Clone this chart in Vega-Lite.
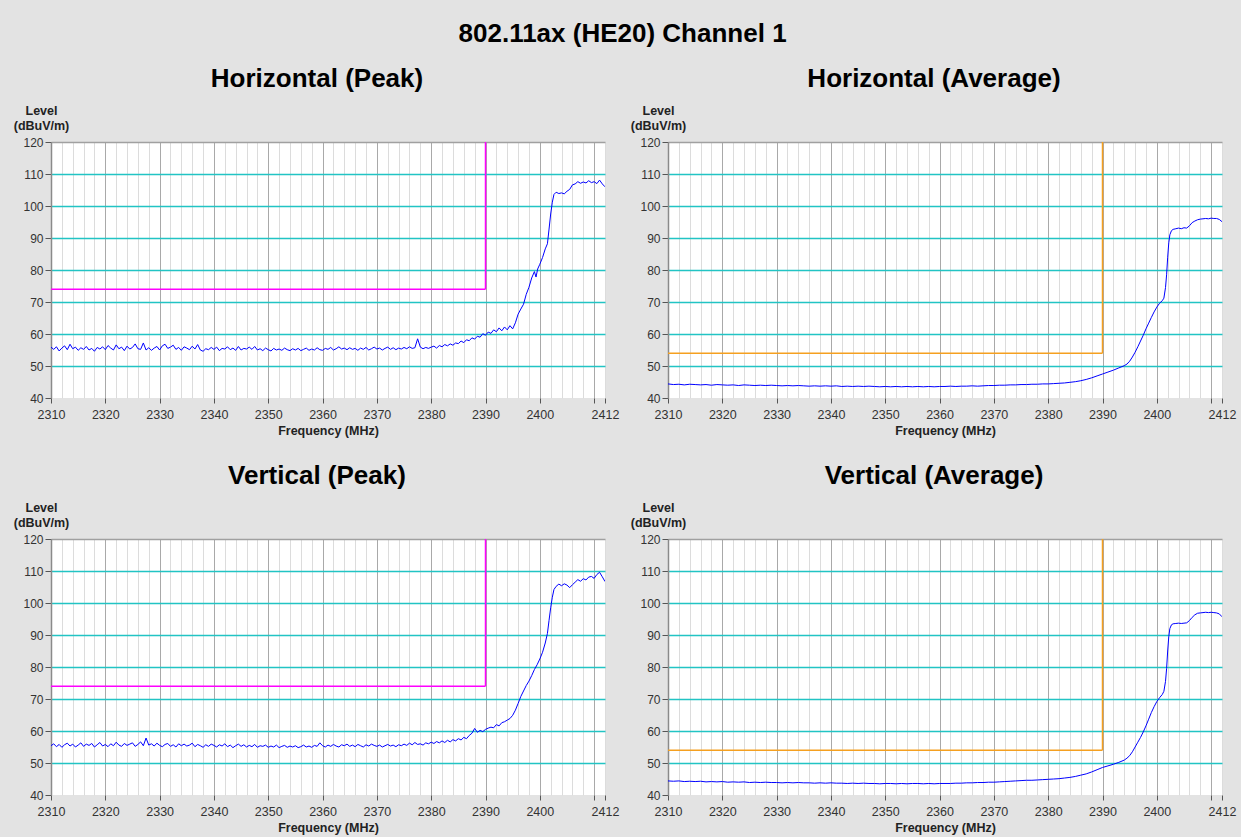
{
"$schema": "https://vega.github.io/schema/vega-lite/v6.json",
"autosize": {"type": "pad"},
"padding": {"left": 13, "top": 21, "right": 5, "bottom": 3},
"background": "#e3e3e3",
"title": {"text": "802.11ax (HE20) Channel 1", "fontSize": 26, "fontWeight": "bold", "anchor": "middle", "dx": -2, "offset": 19, "color": "#000000"},
"columns": 2,
"spacing": {"column": 63, "row": 141},
"bounds": "flush",
"config": {
  "font": "Liberation Sans",
  "view": {"stroke": null, "fill": "#ffffff"},
  "axisX": {"format": "d", "labelFontSize": 12.5, "labelColor": "#333333", "tickColor": "#555555", "tickSize": 5, "domain": false, "labelFlush": false, "labelOverlap": false, "labelPadding": 5, "titleFontSize": 12.5, "titleFontWeight": "bold", "titleColor": "#222222", "titlePadding": 4, "gridWidth": 1},
  "axisY": {"labelFontSize": 12, "labelColor": "#333333", "tickColor": "#555555", "tickSize": 6, "domainColor": "#8a8a8a", "domainWidth": 1.5, "labelPadding": 2, "labelOverlap": false, "titleFontSize": 12.5, "titleFontWeight": "bold", "titleColor": "#222222", "titleAngle": 0, "titleAlign": "center", "titleBaseline": "alphabetic", "titleX": -10, "titleY": -28, "titleLineHeight": 15, "gridWidth": 1.3}
},
"datasets": {
"limP": [{"f": 2310, "f2": 2390, "v": 74, "v2": 74}, {"f": 2390, "f2": 2390, "v": 74, "v2": 120}],
"limA": [{"f": 2310, "f2": 2390, "v": 54, "v2": 54}, {"f": 2390, "f2": 2390, "v": 54, "v2": 120}],
"hp": [
{"f":2310,"v":55.9},{"f":2310.5,"v":55.2},{"f":2311,"v":56.0},{"f":2311.5,"v":54.7},{"f":2312,"v":55.6},{"f":2312.5,"v":56.3},{"f":2313,"v":55.1},{"f":2313.5,"v":56.8},{"f":2314,"v":55.4},{"f":2314.5,"v":55.9},
{"f":2315,"v":54.9},{"f":2315.5,"v":55.7},{"f":2316,"v":55.2},{"f":2316.5,"v":56.1},{"f":2317,"v":55.0},{"f":2317.5,"v":55.5},{"f":2318,"v":54.6},{"f":2318.5,"v":55.8},{"f":2319,"v":55.3},{"f":2319.5,"v":56.0},
{"f":2320,"v":55.1},{"f":2320.5,"v":56.4},{"f":2321,"v":55.6},{"f":2321.5,"v":55.0},{"f":2322,"v":56.6},{"f":2322.5,"v":55.4},{"f":2323,"v":55.9},{"f":2323.5,"v":54.8},{"f":2324,"v":56.2},{"f":2324.5,"v":55.3},
{"f":2325,"v":55.8},{"f":2325.5,"v":56.9},{"f":2326,"v":55.4},{"f":2326.5,"v":55.2},{"f":2327,"v":57.2},{"f":2327.5,"v":55.0},{"f":2328,"v":55.7},{"f":2328.5,"v":54.9},{"f":2329,"v":55.6},{"f":2329.5,"v":56.1},
{"f":2330,"v":55.0},{"f":2330.5,"v":56.3},{"f":2331,"v":56.8},{"f":2331.5,"v":55.5},{"f":2332,"v":55.9},{"f":2332.5,"v":56.5},{"f":2333,"v":55.2},{"f":2333.5,"v":55.8},{"f":2334,"v":54.9},{"f":2334.5,"v":56.0},
{"f":2335,"v":55.6},{"f":2335.5,"v":55.1},{"f":2336,"v":56.2},{"f":2336.5,"v":55.3},{"f":2337,"v":56.7},{"f":2337.5,"v":55.0},{"f":2338,"v":54.6},{"f":2338.5,"v":55.4},{"f":2339,"v":55.1},{"f":2339.5,"v":55.8},
{"f":2340,"v":55.2},{"f":2340.5,"v":55.9},{"f":2341,"v":54.8},{"f":2341.5,"v":55.5},{"f":2342,"v":55.3},{"f":2342.5,"v":56.0},{"f":2343,"v":55.1},{"f":2343.5,"v":55.6},{"f":2344,"v":54.9},{"f":2344.5,"v":56.1},
{"f":2345,"v":55.0},{"f":2345.5,"v":55.5},{"f":2346,"v":55.3},{"f":2346.5,"v":55.9},{"f":2347,"v":55.2},{"f":2347.5,"v":56.1},{"f":2348,"v":55.0},{"f":2348.5,"v":55.4},{"f":2349,"v":54.8},{"f":2349.5,"v":55.6},
{"f":2350,"v":55.1},{"f":2350.5,"v":54.7},{"f":2351,"v":55.5},{"f":2351.5,"v":55.0},{"f":2352,"v":55.3},{"f":2352.5,"v":54.9},{"f":2353,"v":55.6},{"f":2353.5,"v":55.1},{"f":2354,"v":54.8},{"f":2354.5,"v":55.4},
{"f":2355,"v":55.0},{"f":2355.5,"v":55.5},{"f":2356,"v":54.8},{"f":2356.5,"v":55.2},{"f":2357,"v":55.6},{"f":2357.5,"v":54.9},{"f":2358,"v":55.3},{"f":2358.5,"v":55.0},{"f":2359,"v":55.7},{"f":2359.5,"v":55.1},
{"f":2360,"v":54.9},{"f":2360.5,"v":55.5},{"f":2361,"v":55.2},{"f":2361.5,"v":55.8},{"f":2362,"v":55.0},{"f":2362.5,"v":55.4},{"f":2363,"v":56.0},{"f":2363.5,"v":55.3},{"f":2364,"v":55.6},{"f":2364.5,"v":55.1},
{"f":2365,"v":55.7},{"f":2365.5,"v":55.2},{"f":2366,"v":55.5},{"f":2366.5,"v":54.9},{"f":2367,"v":55.6},{"f":2367.5,"v":55.2},{"f":2368,"v":55.8},{"f":2368.5,"v":55.0},{"f":2369,"v":55.4},{"f":2369.5,"v":55.9},
{"f":2370,"v":55.3},{"f":2370.5,"v":55.6},{"f":2371,"v":55.0},{"f":2371.5,"v":55.5},{"f":2372,"v":55.9},{"f":2372.5,"v":55.2},{"f":2373,"v":55.7},{"f":2373.5,"v":55.1},{"f":2374,"v":55.6},{"f":2374.5,"v":55.3},
{"f":2375,"v":55.8},{"f":2375.5,"v":55.4},{"f":2376,"v":56.0},{"f":2376.5,"v":55.5},{"f":2377,"v":55.7},{"f":2377.5,"v":58.5},{"f":2378,"v":55.9},{"f":2378.5,"v":55.4},{"f":2379,"v":55.8},{"f":2379.5,"v":55.5},
{"f":2380,"v":55.9},{"f":2380.5,"v":56.2},{"f":2381,"v":55.6},{"f":2381.5,"v":56.4},{"f":2382,"v":56.0},{"f":2382.5,"v":56.7},{"f":2383,"v":56.3},{"f":2383.5,"v":56.9},{"f":2384,"v":56.5},{"f":2384.5,"v":57.2},
{"f":2385,"v":57.0},{"f":2385.5,"v":57.8},{"f":2386,"v":57.3},{"f":2386.5,"v":58.2},{"f":2387,"v":57.9},{"f":2387.5,"v":58.8},{"f":2388,"v":58.4},{"f":2388.5,"v":59.3},{"f":2389,"v":59.0},{"f":2389.5,"v":60.1},
{"f":2390,"v":59.6},{"f":2390.5,"v":60.6},{"f":2391,"v":60.2},{"f":2391.5,"v":61.3},{"f":2392,"v":60.7},{"f":2392.5,"v":61.9},{"f":2393,"v":61.0},{"f":2393.5,"v":62.2},{"f":2394,"v":61.3},{"f":2394.5,"v":62.6},
{"f":2395,"v":61.6},{"f":2395.5,"v":63.5},{"f":2396,"v":66.2},{"f":2396.5,"v":67.8},{"f":2397,"v":69.3},{"f":2397.5,"v":72.4},{"f":2398,"v":74.6},{"f":2398.5,"v":77.5},{"f":2399,"v":79.5},{"f":2399.3,"v":77.8},
{"f":2399.6,"v":80.3},{"f":2400,"v":81.8},{"f":2400.5,"v":83.9},{"f":2401,"v":86.6},{"f":2401.4,"v":88.2},{"f":2401.7,"v":92.8},{"f":2402,"v":97.5},{"f":2402.3,"v":101.2},{"f":2402.6,"v":103.6},{"f":2403,"v":104.3},
{"f":2403.5,"v":103.9},{"f":2404,"v":104.1},{"f":2404.5,"v":103.8},{"f":2405,"v":104.6},{"f":2405.5,"v":105.2},{"f":2406,"v":106.6},{"f":2406.5,"v":106.9},{"f":2407,"v":107.6},{"f":2407.5,"v":107.1},{"f":2408,"v":107.5},
{"f":2408.5,"v":107.2},{"f":2409,"v":107.9},{"f":2409.5,"v":107.3},{"f":2410,"v":107.6},{"f":2410.5,"v":107.0},{"f":2411,"v":108.1},{"f":2411.5,"v":106.9},{"f":2412,"v":106.0}
],
"vp": [
{"f":2310,"v":55.4},{"f":2310.5,"v":56.0},{"f":2311,"v":55.1},{"f":2311.5,"v":55.8},{"f":2312,"v":54.9},{"f":2312.5,"v":55.7},{"f":2313,"v":56.2},{"f":2313.5,"v":55.3},{"f":2314,"v":55.9},{"f":2314.5,"v":55.0},
{"f":2315,"v":55.6},{"f":2315.5,"v":56.3},{"f":2316,"v":55.2},{"f":2316.5,"v":55.9},{"f":2317,"v":55.5},{"f":2317.5,"v":56.1},{"f":2318,"v":55.0},{"f":2318.5,"v":55.7},{"f":2319,"v":56.4},{"f":2319.5,"v":55.3},
{"f":2320,"v":55.8},{"f":2320.5,"v":55.1},{"f":2321,"v":56.0},{"f":2321.5,"v":55.4},{"f":2322,"v":56.5},{"f":2322.5,"v":55.6},{"f":2323,"v":55.2},{"f":2323.5,"v":56.1},{"f":2324,"v":55.5},{"f":2324.5,"v":55.9},
{"f":2325,"v":56.3},{"f":2325.5,"v":55.2},{"f":2326,"v":55.8},{"f":2326.5,"v":56.6},{"f":2327,"v":55.4},{"f":2327.5,"v":57.8},{"f":2328,"v":55.6},{"f":2328.5,"v":56.0},{"f":2329,"v":55.3},{"f":2329.5,"v":56.2},
{"f":2330,"v":55.5},{"f":2330.5,"v":55.1},{"f":2331,"v":55.8},{"f":2331.5,"v":56.1},{"f":2332,"v":55.2},{"f":2332.5,"v":55.7},{"f":2333,"v":55.0},{"f":2333.5,"v":56.0},{"f":2334,"v":55.4},{"f":2334.5,"v":55.9},
{"f":2335,"v":55.3},{"f":2335.5,"v":55.6},{"f":2336,"v":56.2},{"f":2336.5,"v":55.1},{"f":2337,"v":55.8},{"f":2337.5,"v":55.4},{"f":2338,"v":54.9},{"f":2338.5,"v":55.7},{"f":2339,"v":55.2},{"f":2339.5,"v":55.9},
{"f":2340,"v":55.5},{"f":2340.5,"v":55.0},{"f":2341,"v":55.7},{"f":2341.5,"v":55.3},{"f":2342,"v":56.0},{"f":2342.5,"v":55.1},{"f":2343,"v":55.6},{"f":2343.5,"v":54.8},{"f":2344,"v":55.4},{"f":2344.5,"v":55.9},
{"f":2345,"v":55.2},{"f":2345.5,"v":55.7},{"f":2346,"v":55.0},{"f":2346.5,"v":55.5},{"f":2347,"v":55.1},{"f":2347.5,"v":55.8},{"f":2348,"v":54.9},{"f":2348.5,"v":55.4},{"f":2349,"v":55.2},{"f":2349.5,"v":55.6},
{"f":2350,"v":54.9},{"f":2350.5,"v":55.3},{"f":2351,"v":55.0},{"f":2351.5,"v":55.6},{"f":2352,"v":54.8},{"f":2352.5,"v":55.2},{"f":2353,"v":55.5},{"f":2353.5,"v":54.9},{"f":2354,"v":55.3},{"f":2354.5,"v":55.0},
{"f":2355,"v":55.4},{"f":2355.5,"v":54.8},{"f":2356,"v":55.1},{"f":2356.5,"v":55.6},{"f":2357,"v":55.0},{"f":2357.5,"v":55.3},{"f":2358,"v":54.9},{"f":2358.5,"v":55.5},{"f":2359,"v":55.2},{"f":2359.5,"v":56.3},
{"f":2360,"v":55.4},{"f":2360.5,"v":55.0},{"f":2361,"v":55.6},{"f":2361.5,"v":55.2},{"f":2362,"v":55.8},{"f":2362.5,"v":55.3},{"f":2363,"v":55.0},{"f":2363.5,"v":55.7},{"f":2364,"v":55.4},{"f":2364.5,"v":55.9},
{"f":2365,"v":55.2},{"f":2365.5,"v":55.6},{"f":2366,"v":55.1},{"f":2366.5,"v":55.8},{"f":2367,"v":55.4},{"f":2367.5,"v":55.0},{"f":2368,"v":55.7},{"f":2368.5,"v":55.3},{"f":2369,"v":55.9},{"f":2369.5,"v":55.5},
{"f":2370,"v":55.2},{"f":2370.5,"v":55.6},{"f":2371,"v":55.0},{"f":2371.5,"v":55.4},{"f":2372,"v":55.8},{"f":2372.5,"v":55.3},{"f":2373,"v":55.6},{"f":2373.5,"v":55.1},{"f":2374,"v":55.7},{"f":2374.5,"v":55.4},
{"f":2375,"v":55.9},{"f":2375.5,"v":55.5},{"f":2376,"v":56.2},{"f":2376.5,"v":55.7},{"f":2377,"v":56.4},{"f":2377.5,"v":55.8},{"f":2378,"v":56.0},{"f":2378.5,"v":55.6},{"f":2379,"v":56.3},{"f":2379.5,"v":56.0},
{"f":2380,"v":56.5},{"f":2380.5,"v":56.1},{"f":2381,"v":56.7},{"f":2381.5,"v":56.3},{"f":2382,"v":56.9},{"f":2382.5,"v":56.4},{"f":2383,"v":57.1},{"f":2383.5,"v":56.6},{"f":2384,"v":57.3},{"f":2384.5,"v":56.9},
{"f":2385,"v":57.6},{"f":2385.5,"v":57.2},{"f":2386,"v":58.0},{"f":2386.5,"v":57.6},{"f":2387,"v":58.6},{"f":2387.5,"v":59.3},{"f":2388,"v":60.8},{"f":2388.5,"v":59.6},{"f":2389,"v":60.2},{"f":2389.5,"v":59.8},
{"f":2390,"v":60.5},{"f":2390.5,"v":60.9},{"f":2391,"v":61.2},{"f":2391.5,"v":61.0},{"f":2392,"v":62.0},{"f":2392.5,"v":61.6},{"f":2393,"v":62.6},{"f":2393.5,"v":62.9},{"f":2394,"v":63.4},{"f":2394.5,"v":63.9},
{"f":2395,"v":64.9},{"f":2395.5,"v":66.5},{"f":2396,"v":68.6},{"f":2396.5,"v":70.8},{"f":2397,"v":72.5},{"f":2397.5,"v":74.2},{"f":2398,"v":75.6},{"f":2398.5,"v":77.3},{"f":2399,"v":79.2},{"f":2399.5,"v":80.7},
{"f":2400,"v":82.5},{"f":2400.5,"v":84.6},{"f":2401,"v":87.5},{"f":2401.4,"v":90.5},{"f":2401.7,"v":94.6},{"f":2402,"v":98.5},{"f":2402.3,"v":101.8},{"f":2402.6,"v":104.2},{"f":2403,"v":105.2},{"f":2403.5,"v":105.9},
{"f":2404,"v":105.4},{"f":2404.5,"v":106.0},{"f":2405,"v":105.6},{"f":2405.5,"v":104.8},{"f":2406,"v":105.7},{"f":2406.5,"v":106.5},{"f":2407,"v":107.3},{"f":2407.5,"v":106.8},{"f":2408,"v":107.6},{"f":2408.5,"v":107.2},
{"f":2409,"v":108.1},{"f":2409.5,"v":108.3},{"f":2410,"v":107.7},{"f":2410.5,"v":108.9},{"f":2411,"v":109.6},{"f":2411.5,"v":108.2},{"f":2412,"v":106.7}
],
"ha": [
{"f":2310,"v":44.4},{"f":2311,"v":44.2},{"f":2312,"v":44.3},{"f":2313,"v":44.1},{"f":2314,"v":44.3},{"f":2315,"v":44.2},{"f":2316,"v":44.1},{"f":2317,"v":44.2},{"f":2318,"v":44.0},{"f":2319,"v":44.2},
{"f":2320,"v":44.1},{"f":2321,"v":44.0},{"f":2322,"v":44.1},{"f":2323,"v":43.9},{"f":2324,"v":44.1},{"f":2325,"v":44.0},{"f":2326,"v":43.9},{"f":2327,"v":44.0},{"f":2328,"v":43.9},{"f":2329,"v":44.0},
{"f":2330,"v":43.9},{"f":2331,"v":43.8},{"f":2332,"v":43.9},{"f":2333,"v":43.8},{"f":2334,"v":43.9},{"f":2335,"v":43.8},{"f":2336,"v":43.7},{"f":2337,"v":43.8},{"f":2338,"v":43.7},{"f":2339,"v":43.8},
{"f":2340,"v":43.7},{"f":2341,"v":43.8},{"f":2342,"v":43.6},{"f":2343,"v":43.7},{"f":2344,"v":43.6},{"f":2345,"v":43.7},{"f":2346,"v":43.6},{"f":2347,"v":43.7},{"f":2348,"v":43.6},{"f":2349,"v":43.5},
{"f":2350,"v":43.6},{"f":2351,"v":43.5},{"f":2352,"v":43.6},{"f":2353,"v":43.5},{"f":2354,"v":43.6},{"f":2355,"v":43.5},{"f":2356,"v":43.6},{"f":2357,"v":43.5},{"f":2358,"v":43.6},{"f":2359,"v":43.5},
{"f":2360,"v":43.6},{"f":2361,"v":43.6},{"f":2362,"v":43.7},{"f":2363,"v":43.6},{"f":2364,"v":43.7},{"f":2365,"v":43.7},{"f":2366,"v":43.8},{"f":2367,"v":43.7},{"f":2368,"v":43.8},{"f":2369,"v":43.9},
{"f":2370,"v":43.9},{"f":2371,"v":44.0},{"f":2372,"v":44.0},{"f":2373,"v":44.1},{"f":2374,"v":44.1},{"f":2375,"v":44.2},{"f":2376,"v":44.2},{"f":2377,"v":44.3},{"f":2378,"v":44.3},{"f":2379,"v":44.4},
{"f":2380,"v":44.4},{"f":2381,"v":44.5},{"f":2382,"v":44.6},{"f":2383,"v":44.7},{"f":2384,"v":44.9},{"f":2385,"v":45.1},{"f":2386,"v":45.4},{"f":2387,"v":45.8},{"f":2388,"v":46.3},{"f":2389,"v":46.9},
{"f":2390,"v":47.5},{"f":2391,"v":48.1},{"f":2392,"v":48.7},{"f":2393,"v":49.4},{"f":2394,"v":50.1},{"f":2394.5,"v":50.6},{"f":2395,"v":51.5},{"f":2395.5,"v":52.8},{"f":2396,"v":54.3},{"f":2396.5,"v":56.0},
{"f":2397,"v":57.8},{"f":2397.5,"v":59.6},{"f":2398,"v":61.6},{"f":2398.5,"v":63.4},{"f":2399,"v":65.2},{"f":2399.5,"v":66.9},{"f":2400,"v":68.4},{"f":2400.5,"v":69.6},{"f":2401,"v":70.4},{"f":2401.3,"v":71.2},
{"f":2401.6,"v":74.5},{"f":2401.8,"v":78.5},{"f":2402,"v":84.0},{"f":2402.2,"v":88.5},{"f":2402.4,"v":91.0},{"f":2402.7,"v":92.3},{"f":2403,"v":92.7},{"f":2403.5,"v":92.9},{"f":2404,"v":93.1},{"f":2404.5,"v":92.9},
{"f":2405,"v":93.2},{"f":2405.5,"v":93.1},{"f":2406,"v":93.8},{"f":2406.5,"v":94.8},{"f":2407,"v":95.3},{"f":2407.5,"v":95.7},{"f":2408,"v":95.9},{"f":2408.5,"v":96.0},{"f":2409,"v":96.1},{"f":2409.5,"v":96.0},
{"f":2410,"v":96.2},{"f":2410.5,"v":96.1},{"f":2411,"v":96.1},{"f":2411.5,"v":95.8},{"f":2412,"v":95.1}
],
"va": [
{"f":2310,"v":44.4},{"f":2311,"v":44.3},{"f":2312,"v":44.4},{"f":2313,"v":44.2},{"f":2314,"v":44.3},{"f":2315,"v":44.2},{"f":2316,"v":44.3},{"f":2317,"v":44.1},{"f":2318,"v":44.2},{"f":2319,"v":44.1},
{"f":2320,"v":44.2},{"f":2321,"v":44.0},{"f":2322,"v":44.1},{"f":2323,"v":44.0},{"f":2324,"v":44.1},{"f":2325,"v":43.9},{"f":2326,"v":44.0},{"f":2327,"v":43.9},{"f":2328,"v":44.0},{"f":2329,"v":43.9},
{"f":2330,"v":43.9},{"f":2331,"v":43.8},{"f":2332,"v":43.9},{"f":2333,"v":43.8},{"f":2334,"v":43.9},{"f":2335,"v":43.8},{"f":2336,"v":43.8},{"f":2337,"v":43.7},{"f":2338,"v":43.8},{"f":2339,"v":43.7},
{"f":2340,"v":43.8},{"f":2341,"v":43.7},{"f":2342,"v":43.7},{"f":2343,"v":43.6},{"f":2344,"v":43.7},{"f":2345,"v":43.6},{"f":2346,"v":43.7},{"f":2347,"v":43.6},{"f":2348,"v":43.6},{"f":2349,"v":43.5},
{"f":2350,"v":43.6},{"f":2351,"v":43.6},{"f":2352,"v":43.5},{"f":2353,"v":43.6},{"f":2354,"v":43.5},{"f":2355,"v":43.6},{"f":2356,"v":43.6},{"f":2357,"v":43.5},{"f":2358,"v":43.6},{"f":2359,"v":43.5},
{"f":2360,"v":43.6},{"f":2361,"v":43.6},{"f":2362,"v":43.6},{"f":2363,"v":43.7},{"f":2364,"v":43.7},{"f":2365,"v":43.8},{"f":2366,"v":43.8},{"f":2367,"v":43.9},{"f":2368,"v":43.9},{"f":2369,"v":44.0},
{"f":2370,"v":44.0},{"f":2371,"v":44.1},{"f":2372,"v":44.2},{"f":2373,"v":44.3},{"f":2374,"v":44.4},{"f":2375,"v":44.5},{"f":2376,"v":44.6},{"f":2377,"v":44.6},{"f":2378,"v":44.7},{"f":2379,"v":44.8},
{"f":2380,"v":44.9},{"f":2381,"v":45.0},{"f":2382,"v":45.1},{"f":2383,"v":45.3},{"f":2384,"v":45.5},{"f":2385,"v":45.8},{"f":2386,"v":46.2},{"f":2387,"v":46.6},{"f":2388,"v":47.2},{"f":2389,"v":47.9},
{"f":2390,"v":48.6},{"f":2391,"v":49.1},{"f":2392,"v":49.6},{"f":2393,"v":50.2},{"f":2394,"v":50.9},{"f":2394.5,"v":51.5},{"f":2395,"v":52.3},{"f":2395.5,"v":53.5},{"f":2396,"v":55.0},{"f":2396.5,"v":56.5},
{"f":2397,"v":58.0},{"f":2397.5,"v":59.7},{"f":2398,"v":61.6},{"f":2398.5,"v":63.7},{"f":2399,"v":65.8},{"f":2399.5,"v":67.6},{"f":2400,"v":69.2},{"f":2400.5,"v":70.4},{"f":2401,"v":71.4},{"f":2401.3,"v":72.4},
{"f":2401.6,"v":75.5},{"f":2401.8,"v":79.5},{"f":2402,"v":85.0},{"f":2402.2,"v":89.5},{"f":2402.4,"v":92.0},{"f":2402.7,"v":93.2},{"f":2403,"v":93.5},{"f":2403.5,"v":93.6},{"f":2404,"v":93.7},{"f":2404.5,"v":93.6},
{"f":2405,"v":93.7},{"f":2405.5,"v":93.8},{"f":2406,"v":94.5},{"f":2406.5,"v":95.5},{"f":2407,"v":96.3},{"f":2407.5,"v":96.8},{"f":2408,"v":96.9},{"f":2408.5,"v":97.0},{"f":2409,"v":97.1},{"f":2409.5,"v":97.0},
{"f":2410,"v":97.1},{"f":2410.5,"v":97.0},{"f":2411,"v":96.9},{"f":2411.5,"v":96.6},{"f":2412,"v":95.7}
]
},
"concat": [
{
"title": {"text": "Horizontal (Peak)", "fontSize": 26, "fontWeight": "bold", "anchor": "middle", "dx": -11, "offset": 12, "color": "#000000"},
"width": 554, "height": 256,
"encoding": {
  "x": {"field": "f", "type": "quantitative", "scale": {"domain": [2310, 2412], "nice": false, "zero": false},
   "axis": {"title": "Frequency (MHz)", "values": [2310,2312,2314,2316,2318,2320,2322,2324,2326,2328,2330,2332,2334,2336,2338,2340,2342,2344,2346,2348,2350,2352,2354,2356,2358,2360,2362,2364,2366,2368,2370,2372,2374,2376,2378,2380,2382,2384,2386,2388,2390,2392,2394,2396,2398,2400,2402,2404,2406,2408,2410,2412],
    "labelExpr": "((datum.value % 10 === 0 && datum.value !== 2410) || datum.value === 2412) ? datum.label : ''",
    "gridColor": {"condition": {"test": "datum.value % 10 === 0", "value": "#a9a9a9"}, "value": "#dcdcdc"},
    "tickOpacity": {"condition": {"test": "datum.value % 10 === 0 || datum.value === 2412", "value": 1}, "value": 0}}},
  "y": {"field": "v", "type": "quantitative", "scale": {"domain": [40, 120], "nice": false, "zero": false},
   "axis": {"title": ["Level", "(dBuV/m)"], "values": [40,50,60,70,80,90,100,110,120],
    "gridColor": {"condition": {"test": "datum.value === 120", "value": "#a0a0a0"}, "value": "#22c4c4"},
    "gridOpacity": {"condition": {"test": "datum.value === 40", "value": 0}, "value": 1}}}
},
"layer": [
{"data": {"name": "hp"}, "mark": {"type": "line", "color": "#0000ff", "strokeWidth": 1, "clip": true}},
{"data": {"name": "limP"}, "mark": {"type": "rule", "color": "#ff00ff", "strokeWidth": 1.5}, "encoding": {"x2": {"field": "f2"}, "y2": {"field": "v2"}}}
]
},
{
"title": {"text": "Horizontal (Average)", "fontSize": 26, "fontWeight": "bold", "anchor": "middle", "dx": -11, "offset": 12, "color": "#000000"},
"width": 554, "height": 256,
"encoding": {
  "x": {"field": "f", "type": "quantitative", "scale": {"domain": [2310, 2412], "nice": false, "zero": false},
   "axis": {"title": "Frequency (MHz)", "values": [2310,2312,2314,2316,2318,2320,2322,2324,2326,2328,2330,2332,2334,2336,2338,2340,2342,2344,2346,2348,2350,2352,2354,2356,2358,2360,2362,2364,2366,2368,2370,2372,2374,2376,2378,2380,2382,2384,2386,2388,2390,2392,2394,2396,2398,2400,2402,2404,2406,2408,2410,2412],
    "labelExpr": "((datum.value % 10 === 0 && datum.value !== 2410) || datum.value === 2412) ? datum.label : ''",
    "gridColor": {"condition": {"test": "datum.value % 10 === 0", "value": "#a9a9a9"}, "value": "#dcdcdc"},
    "tickOpacity": {"condition": {"test": "datum.value % 10 === 0 || datum.value === 2412", "value": 1}, "value": 0}}},
  "y": {"field": "v", "type": "quantitative", "scale": {"domain": [40, 120], "nice": false, "zero": false},
   "axis": {"title": ["Level", "(dBuV/m)"], "values": [40,50,60,70,80,90,100,110,120],
    "gridColor": {"condition": {"test": "datum.value === 120", "value": "#a0a0a0"}, "value": "#22c4c4"},
    "gridOpacity": {"condition": {"test": "datum.value === 40", "value": 0}, "value": 1}}}
},
"layer": [
{"data": {"name": "ha"}, "mark": {"type": "line", "color": "#0000ff", "strokeWidth": 1, "clip": true}},
{"data": {"name": "limA"}, "mark": {"type": "rule", "color": "#f5a020", "strokeWidth": 1.5}, "encoding": {"x2": {"field": "f2"}, "y2": {"field": "v2"}}}
]
},
{
"title": {"text": "Vertical (Peak)", "fontSize": 26, "fontWeight": "bold", "anchor": "middle", "dx": -11, "offset": 12, "color": "#000000"},
"width": 554, "height": 256,
"encoding": {
  "x": {"field": "f", "type": "quantitative", "scale": {"domain": [2310, 2412], "nice": false, "zero": false},
   "axis": {"title": "Frequency (MHz)", "values": [2310,2312,2314,2316,2318,2320,2322,2324,2326,2328,2330,2332,2334,2336,2338,2340,2342,2344,2346,2348,2350,2352,2354,2356,2358,2360,2362,2364,2366,2368,2370,2372,2374,2376,2378,2380,2382,2384,2386,2388,2390,2392,2394,2396,2398,2400,2402,2404,2406,2408,2410,2412],
    "labelExpr": "((datum.value % 10 === 0 && datum.value !== 2410) || datum.value === 2412) ? datum.label : ''",
    "gridColor": {"condition": {"test": "datum.value % 10 === 0", "value": "#a9a9a9"}, "value": "#dcdcdc"},
    "tickOpacity": {"condition": {"test": "datum.value % 10 === 0 || datum.value === 2412", "value": 1}, "value": 0}}},
  "y": {"field": "v", "type": "quantitative", "scale": {"domain": [40, 120], "nice": false, "zero": false},
   "axis": {"title": ["Level", "(dBuV/m)"], "values": [40,50,60,70,80,90,100,110,120],
    "gridColor": {"condition": {"test": "datum.value === 120", "value": "#a0a0a0"}, "value": "#22c4c4"},
    "gridOpacity": {"condition": {"test": "datum.value === 40", "value": 0}, "value": 1}}}
},
"layer": [
{"data": {"name": "vp"}, "mark": {"type": "line", "color": "#0000ff", "strokeWidth": 1, "clip": true}},
{"data": {"name": "limP"}, "mark": {"type": "rule", "color": "#ff00ff", "strokeWidth": 1.5}, "encoding": {"x2": {"field": "f2"}, "y2": {"field": "v2"}}}
]
},
{
"title": {"text": "Vertical (Average)", "fontSize": 26, "fontWeight": "bold", "anchor": "middle", "dx": -11, "offset": 12, "color": "#000000"},
"width": 554, "height": 256,
"encoding": {
  "x": {"field": "f", "type": "quantitative", "scale": {"domain": [2310, 2412], "nice": false, "zero": false},
   "axis": {"title": "Frequency (MHz)", "values": [2310,2312,2314,2316,2318,2320,2322,2324,2326,2328,2330,2332,2334,2336,2338,2340,2342,2344,2346,2348,2350,2352,2354,2356,2358,2360,2362,2364,2366,2368,2370,2372,2374,2376,2378,2380,2382,2384,2386,2388,2390,2392,2394,2396,2398,2400,2402,2404,2406,2408,2410,2412],
    "labelExpr": "((datum.value % 10 === 0 && datum.value !== 2410) || datum.value === 2412) ? datum.label : ''",
    "gridColor": {"condition": {"test": "datum.value % 10 === 0", "value": "#a9a9a9"}, "value": "#dcdcdc"},
    "tickOpacity": {"condition": {"test": "datum.value % 10 === 0 || datum.value === 2412", "value": 1}, "value": 0}}},
  "y": {"field": "v", "type": "quantitative", "scale": {"domain": [40, 120], "nice": false, "zero": false},
   "axis": {"title": ["Level", "(dBuV/m)"], "values": [40,50,60,70,80,90,100,110,120],
    "gridColor": {"condition": {"test": "datum.value === 120", "value": "#a0a0a0"}, "value": "#22c4c4"},
    "gridOpacity": {"condition": {"test": "datum.value === 40", "value": 0}, "value": 1}}}
},
"layer": [
{"data": {"name": "va"}, "mark": {"type": "line", "color": "#0000ff", "strokeWidth": 1, "clip": true}},
{"data": {"name": "limA"}, "mark": {"type": "rule", "color": "#f5a020", "strokeWidth": 1.5}, "encoding": {"x2": {"field": "f2"}, "y2": {"field": "v2"}}}
]
}
]
}
